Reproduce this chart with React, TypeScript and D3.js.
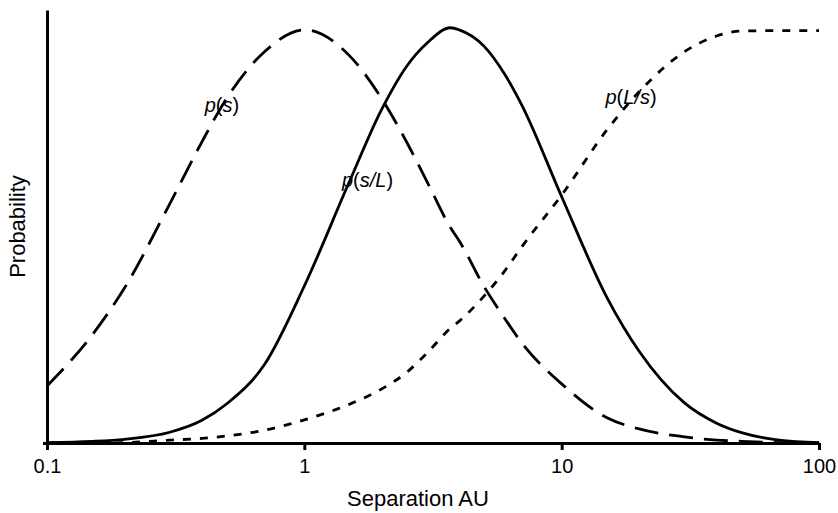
import React, { useRef, useEffect } from "react";
import * as d3 from "d3";

// separation in AU (log axis)
const separation = [0.1, 0.15, 0.2, 0.3, 0.4, 0.5, 0.7, 1, 1.5, 2, 2.5, 3, 3.7, 4, 5, 6, 7, 10, 15, 20, 30, 40, 50, 70, 100];

// p(s) - dashed
const pS = [0.138, 0.262, 0.375, 0.579, 0.729, 0.835, 0.947, 1.0, 0.937, 0.833, 0.728, 0.632, 0.521, 0.489, 0.378, 0.302, 0.242, 0.143, 0.061, 0.034, 0.015, 0.007, 0.004, 0.001, 0];

// p(s/L) - solid
const pSL = [0.001, 0.004, 0.009, 0.026, 0.055, 0.095, 0.19, 0.38, 0.634, 0.808, 0.912, 0.968, 1.005, 1.0, 0.96, 0.893, 0.818, 0.596, 0.352, 0.222, 0.097, 0.048, 0.025, 0.007, 0.001];

// p(L/s) - dotted
const pLS = [0, 0, 0.001, 0.007, 0.011, 0.017, 0.031, 0.056, 0.094, 0.131, 0.171, 0.218, 0.278, 0.295, 0.356, 0.416, 0.475, 0.6, 0.758, 0.85, 0.947, 0.985, 0.997, 0.998, 0.998];

const xTicks = [0.1, 1, 10, 100];
const xTickLabels = ["0.1", "1", "10", "100"];

const font = "'Liberation Sans', Arial, Helvetica, sans-serif";

function App() {
  const ref = useRef<HTMLDivElement>(null);

  const w = 838,
    h = 513,
    margin = { top: 10, right: 19, bottom: 70, left: 47 };

  useEffect(() => {
    document.body.style.margin = "0";
    const root = d3.select(ref.current);
    root.selectAll("*").remove();

    const svg = root
      .append("svg")
      .attr("width", w)
      .attr("height", h)
      .style("display", "block")
      .style("background", "#fff");

    const x = d3
      .scaleLog()
      .domain([0.1, 100])
      .range([margin.left, w - margin.right]);

    const y = d3
      .scaleLinear()
      .domain([0, 1.048])
      .range([h - margin.bottom, margin.top]);

    const series = [
      { name: "p(s)", values: pS, dash: "24,11" },
      { name: "p(s/L)", values: pSL, dash: null },
      { name: "p(L/s)", values: pLS, dash: "8,9" }
    ];

    const line = d3
      .line<[number, number]>()
      .x(d => x(d[0]))
      .y(d => y(d[1]))
      .curve(d3.curveMonotoneX);

    svg
      .append("g")
      .selectAll("path")
      .data(series)
      .enter()
      .append("path")
      .attr("d", s => line(separation.map((v, i) => [v, s.values[i]] as [number, number])))
      .attr("fill", "none")
      .attr("stroke", "#000")
      .attr("stroke-width", 2.8)
      .attr("stroke-dasharray", s => s.dash);

    const xAxis = d3
      .axisBottom(x)
      .tickValues(xTicks)
      .tickFormat((d, i) => xTickLabels[i])
      .tickSizeInner(7)
      .tickSizeOuter(0)
      .tickPadding(9);

    svg
      .append("g")
      .attr("transform", `translate(0,${h - margin.bottom})`)
      .call(xAxis)
      .call(g => g.selectAll("path,line").attr("stroke", "#000").attr("stroke-width", 3))
      .call(g => g.selectAll("text").attr("fill", "#000").style("font-family", font).style("font-size", "20px"));

    const yAxis = d3
      .axisLeft(y)
      .tickValues([0])
      .tickFormat(() => "")
      .tickSizeInner(4)
      .tickSizeOuter(0);

    svg
      .append("g")
      .attr("transform", `translate(${margin.left},0)`)
      .call(yAxis)
      .call(g => g.selectAll("path,line").attr("stroke", "#000").attr("stroke-width", 3));

    // axis titles
    svg
      .append("text")
      .attr("x", 418)
      .attr("y", 506)
      .attr("text-anchor", "middle")
      .style("font-family", font)
      .style("font-size", "22px")
      .text("Separation AU");

    svg
      .append("text")
      .attr("transform", `translate(25,${(margin.top + h - margin.bottom) / 2}) rotate(-90)`)
      .attr("text-anchor", "middle")
      .style("font-family", font)
      .style("font-size", "22px")
      .text("Probability");

    // curve labels
    const labels = [
      { at: [0.41, 0.8], parts: ["p", "(", "s", ")"] },
      { at: [1.4, 0.62], parts: ["p", "(", "s", "/", "L", ")"] },
      { at: [14.8, 0.82], parts: ["p", "(", "L", "/", "s", ")"] }
    ];

    const lbl = svg
      .append("g")
      .selectAll("text")
      .data(labels)
      .enter()
      .append("text")
      .attr("x", d => x(d.at[0]))
      .attr("y", d => y(d.at[1]))
      .style("font-family", font)
      .style("font-size", "20px");

    lbl
      .selectAll("tspan")
      .data(d => d.parts)
      .enter()
      .append("tspan")
      .style("font-style", p => (p === "(" || p === ")" ? "normal" : "italic"))
      .text(p => p);
  }, []);

  return <div className="App" ref={ref}></div>;
}

export default App;
